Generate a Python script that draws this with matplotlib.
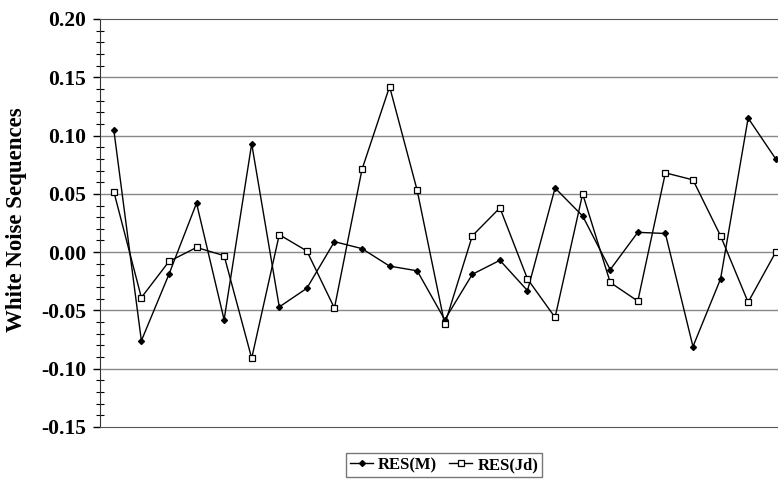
import matplotlib
matplotlib.use("Agg")
import matplotlib.pyplot as plt
from matplotlib.ticker import MultipleLocator

# residual white-noise sequences
obs = list(range(1, 26))
res_m = [0.105, -0.076, -0.019, 0.042, -0.058, 0.093, -0.047, -0.031, 0.009, 0.003,
         -0.012, -0.016, -0.058, -0.019, -0.007, -0.033, 0.055, 0.031, -0.015, 0.017,
         0.016, -0.081, -0.023, 0.115, 0.080]
res_jd = [0.052, -0.039, -0.008, 0.004, -0.003, -0.091, 0.015, 0.001, -0.048, 0.071,
          0.142, 0.053, -0.062, 0.014, 0.038, -0.023, -0.056, 0.050, -0.026, -0.042,
          0.068, 0.062, 0.014, -0.043, 0.000]
yticks = [-0.15, -0.10, -0.05, 0.00, 0.05, 0.10, 0.15, 0.20]

plt.rcParams['font.family'] = ['Liberation Serif', 'DejaVu Serif']
plt.rcParams['font.weight'] = 'bold'

fig = plt.figure(figsize=(7.78, 4.79), dpi=100)
ax = fig.add_axes([100 / 778, 52 / 479, 689.5 / 778, 408 / 479])

ax.plot(obs, res_m, color='black', lw=1.0, marker='D', ms=3.0,
        mfc='black', mec='black', label='RES(M)', zorder=3)
ax.plot(obs, res_jd, color='black', lw=1.0, marker='s', ms=4.3,
        mfc='white', mec='black', mew=0.9, label='RES(Jd)', zorder=3)

ax.set_xlim(0.5, 25.5)
ax.set_ylim(-0.15, 0.20)
ax.set_xticks([])
ax.set_yticks(yticks)
ax.set_yticklabels(['%.2f' % v for v in yticks], fontsize=15.5, fontweight='bold')
ax.yaxis.set_minor_locator(MultipleLocator(0.01))
ax.tick_params(axis='y', which='major', direction='out', length=5, width=1, pad=5)
ax.tick_params(axis='y', which='minor', direction='inout', length=6, width=0.8)

for v in yticks[1:-1]:
    ax.axhline(v, color='#888888', lw=1.0, zorder=1)

ax.spines['right'].set_visible(False)
ax.spines['top'].set_color('#555555')
ax.spines['bottom'].set_color('#555555')
ax.spines['left'].set_color('#333333')

ax.set_ylabel('White Noise Sequences', fontsize=16.5, fontweight='bold')
ax.yaxis.set_label_coords(-73 / 689.5, 0.5 + (226.5 - 223) / 408)

fig.legend(loc='center', bbox_to_anchor=(444 / 778, 1 - 465 / 479), ncol=2,
           frameon=True, fancybox=False, edgecolor='#555555',
           handlelength=1.4, handletextpad=0.3, columnspacing=0.7,
           borderpad=0.25, prop={'weight': 'bold', 'size': 12})

fig.savefig('out.png', dpi=100)
